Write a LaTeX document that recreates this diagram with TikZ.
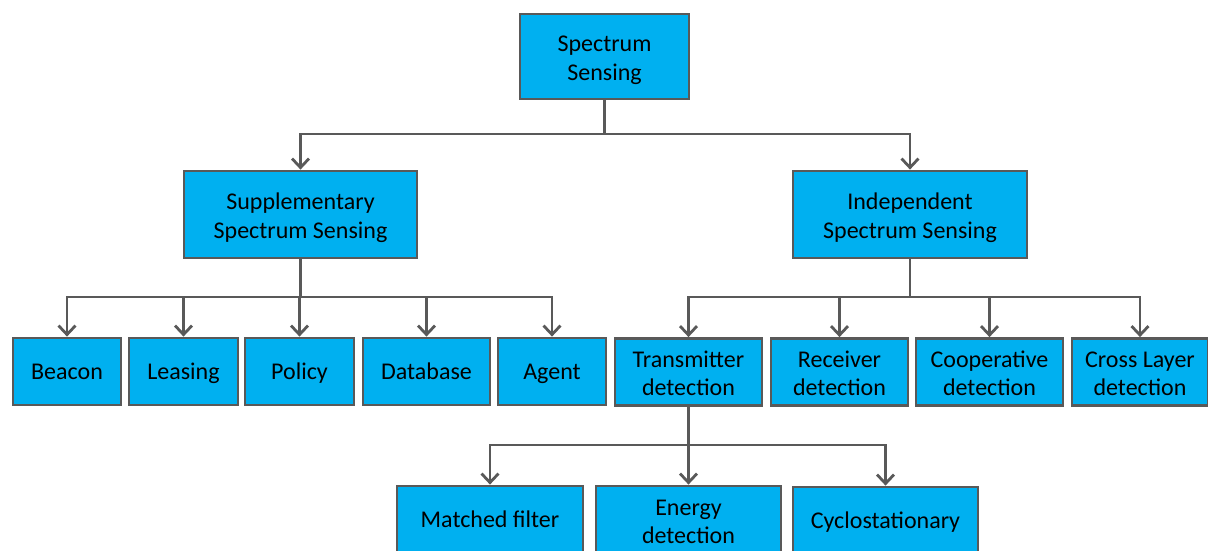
\documentclass[tikz,border=0pt]{standalone}
\usepackage{fontspec}
\setmainfont{Carlito}
\usetikzlibrary{arrows.meta}
\definecolor{fillc}{HTML}{00B0F0}
\definecolor{linec}{HTML}{595959}
% single line: baseline 7.8pt below the box centre
\newcommand{\oneline}[1]{\raisebox{0pt}[20pt][4.4pt]{#1}}
% two lines: first baseline 4.8pt above the box centre
\newcommand{\twoline}[2]{\raisebox{0pt}[20pt][29.6pt]{\begin{tabular}[t]{@{}c@{}}#1\\#2\end{tabular}}}
\begin{document}
\begin{tikzpicture}[x=1pt,y=-1pt,
  box/.style={draw=linec, fill=fillc, line width=2.8pt, inner sep=0pt,
    font=\fontsize{24}{28.5}\selectfont},
  conn/.style={draw=linec, line width=2.8pt, -{Straight Barb[length=9pt,width=17pt]}}]
\useasboundingbox (0,0) rectangle (1208,550);
\clip (0,0) rectangle (1208,550);
\node[box, minimum width=169pt, minimum height=85pt] (top) at (604.5,56.5) {\twoline{Spectrum}{Sensing}};
\node[box, minimum width=233pt, minimum height=87pt] (supp) at (300.5,214.5) {\twoline{Supplementary}{Spectrum Sensing}};
\node[box, minimum width=234pt, minimum height=87pt] (ind) at (910,214.5) {\twoline{Independent}{Spectrum Sensing}};
\node[box, minimum width=108pt, minimum height=67pt] (beacon) at (67,371.5) {\oneline{Beacon}};
\node[box, minimum width=109pt, minimum height=67pt] (leasing) at (183.5,371.5) {\oneline{Leasing}};
\node[box, minimum width=109pt, minimum height=67pt] (policy) at (299.5,371.5) {\oneline{Policy}};
\node[box, minimum width=127pt, minimum height=67pt] (database) at (426.5,371.5) {\oneline{Database}};
\node[box, minimum width=108pt, minimum height=67pt] (agent) at (552,371.5) {\oneline{Agent}};
\node[box, minimum width=147pt, minimum height=67pt] (trans) at (688.5,372) {\twoline{Transmitter}{detection}};
\node[box, minimum width=137pt, minimum height=67pt] (recv) at (839.5,372) {\twoline{Receiver}{detection}};
\node[box, minimum width=147pt, minimum height=67pt] (coop) at (989.5,372) {\twoline{Cooperative}{detection}};
\node[box, minimum width=136pt, minimum height=67pt] (cross) at (1140,372) {\twoline{Cross Layer}{detection}};
\node[box, minimum width=186pt, minimum height=68pt] (matched) at (490,520) {\oneline{Matched filter}};
\node[box, minimum width=185pt, minimum height=68pt] (energy) at (688.5,520) {\twoline{Energy}{detection}};
\node[box, minimum width=185pt, minimum height=68pt] (cyclo) at (885.5,521) {\oneline{Cyclostationary}};
% level 1
\foreach \t in {supp,ind}
  \draw[conn] (top.south) -- (top.south |- 0,134) -| (\t.north);
% supplementary children
\foreach \t in {beacon,leasing,policy,database,agent}
  \draw[conn] (supp.south) -- (supp.south |- 0,297) -| (\t.north);
% independent children
\foreach \t in {trans,recv,coop,cross}
  \draw[conn] (ind.south) -- (ind.south |- 0,297) -| (\t.north);
% transmitter children
\foreach \t in {matched,energy,cyclo}
  \draw[conn] (trans.south) -- (trans.south |- 0,445) -| (\t.north);
\end{tikzpicture}
\end{document}
